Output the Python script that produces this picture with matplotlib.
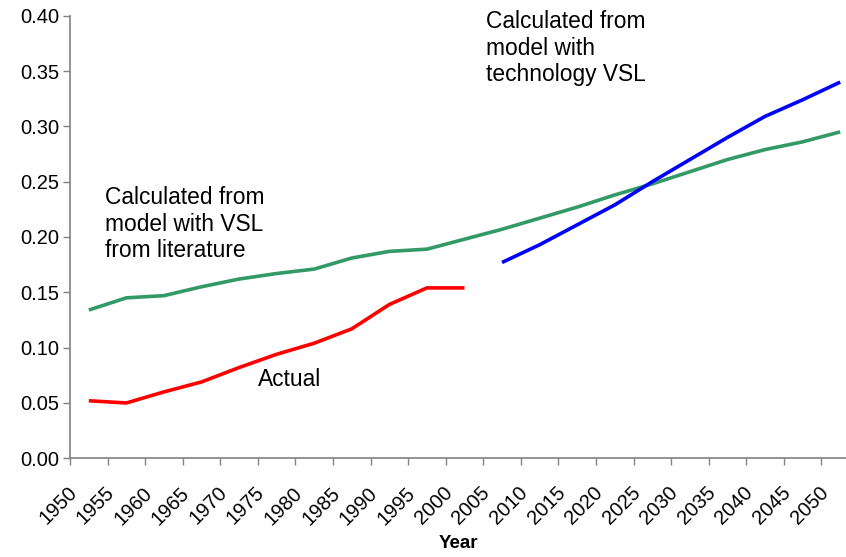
import matplotlib
matplotlib.use("Agg")
import matplotlib.pyplot as plt
import numpy as np

plt.rcParams['font.family'] = ['Liberation Sans', 'DejaVu Sans']

year_labels = [str(y) for y in range(1950, 2051, 5)]

# Series values, one per 5-year category
literature_vsl = [0.134, 0.145, 0.147, 0.155, 0.162, 0.167, 0.171, 0.181, 0.187, 0.189,
                  0.198, 0.207, 0.217, 0.227, 0.238, 0.248, 0.259, 0.270, 0.279, 0.286, 0.295]
actual = [0.052, 0.050, 0.060, 0.069, 0.082, 0.094, 0.104, 0.117, 0.139, 0.154, 0.154]
technology_vsl = [0.177, 0.193, 0.211, 0.229, 0.250, 0.270, 0.290, 0.309, 0.324, 0.340]

fig = plt.figure(figsize=(8.46, 5.57), dpi=100)
ax = fig.add_axes([70/846, 1 - 458.3/557, 1 - 70/846, (458.3 - 15.7)/557])

n = len(year_labels)
centers = np.arange(n) + 0.5
ax.plot(centers[:len(literature_vsl)], literature_vsl, color='#339966', lw=2.6, solid_capstyle='butt')
ax.plot(centers[:len(actual)], actual, color='#ff0000', lw=2.6, solid_capstyle='butt')
ax.plot(centers[n - len(technology_vsl):], technology_vsl, color='#0000ff', lw=2.6, solid_capstyle='butt')

ax.set_ylim(0, 0.40)
ax.set_xlim(0, 776/37.57)
yt = np.arange(0, 0.401, 0.05)
ax.set_yticks(yt)
ax.set_yticklabels([f"{v:.2f}" for v in yt], fontsize=14.5)

# major ticks: marks only; minor ticks: labels, shifted slightly right
ax.set_xticks(np.arange(n))
ax.set_xticklabels([])
ax.set_xticks(np.arange(n) + 0.28, minor=True)
ax.set_xticklabels(year_labels, minor=True, rotation=45, ha='right', va='top', fontsize=14.5)
ax.tick_params(axis='x', which='minor', length=0, pad=18)

for s in ['top', 'right']:
    ax.spines[s].set_visible(False)
for s in ['left', 'bottom']:
    ax.spines[s].set_color('#808080')
    ax.spines[s].set_linewidth(1.2)
ax.tick_params(axis='both', which='major', direction='out', length=5, width=1.0, color='#808080')
ax.tick_params(axis='y', pad=3)

ax.set_xlabel('Year', fontsize=13.5, fontweight='bold', labelpad=5)

ax.text(0.93, 0.246, 'Calculated from\nmodel with VSL\nfrom literature', fontsize=16.4,
        va='top', ha='left', linespacing=1.2)
ax.text(5.0, 0.071, 'Actual', fontsize=16.4, va='center', ha='left')
ax.text(11.07, 0.405, 'Calculated from\nmodel with\ntechnology VSL', fontsize=16.4,
        va='top', ha='left', linespacing=1.2, clip_on=False)

fig.savefig('out.png', dpi=100)
